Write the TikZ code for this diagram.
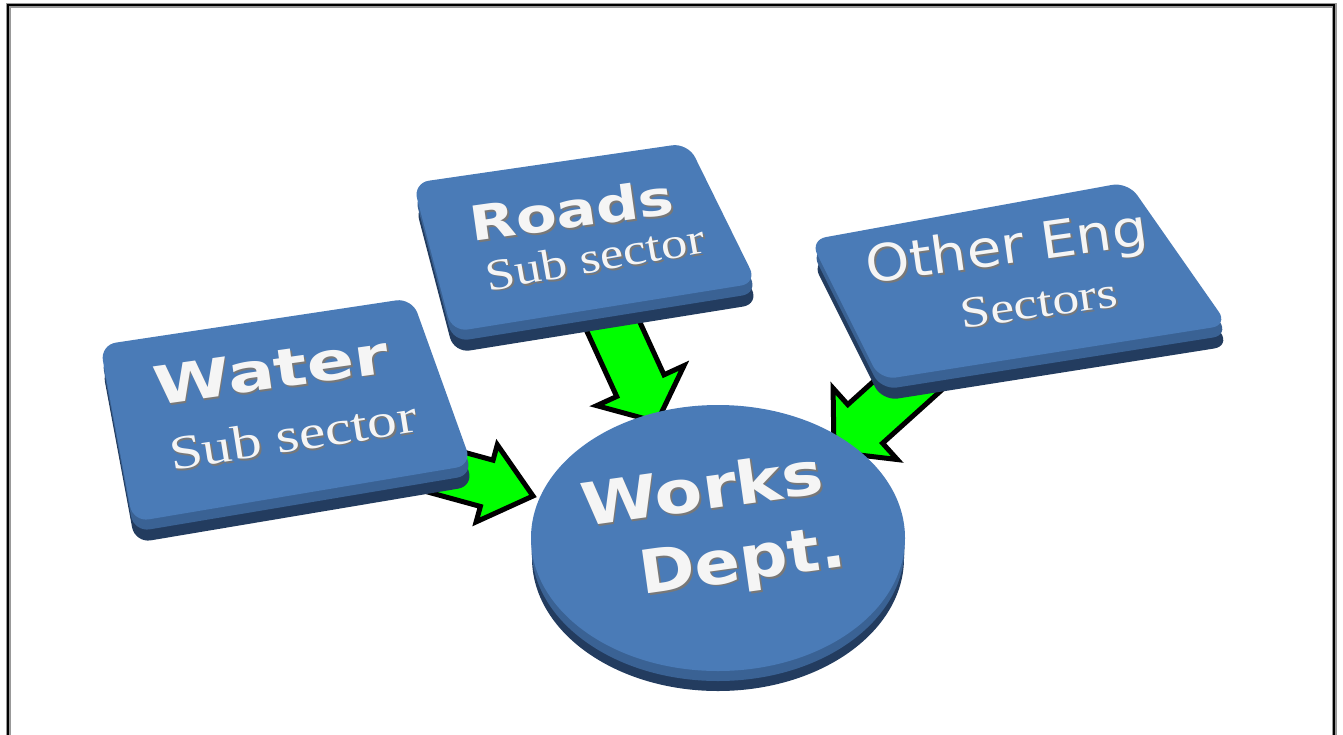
\documentclass[tikz,border=0pt]{standalone}
\usepackage{fontspec}
\usepackage{graphicx}
\usetikzlibrary{calc}
\newfontfamily\vsans{DejaVu Sans}
\newfontfamily\tser{Liberation Serif}
\definecolor{topface}{RGB}{74,123,183}
\definecolor{sidemid}{RGB}{58,98,148}
\definecolor{sidedark}{RGB}{35,60,95}
\definecolor{arrgreen}{RGB}{0,255,0}
\definecolor{shadowgray}{RGB}{120,120,120}
\definecolor{txtwhite}{RGB}{245,245,245}
\newcommand\fsz[1]{\fontsize{#1}{#1}\selectfont}
\tikzset{
  garr/.style={fill=arrgreen, draw=black, line width=5pt, line join=miter},
  txtfg/.style={text=txtwhite, inner sep=0pt},
  slabtop/.style={fill=topface, rounded corners=16pt},
  slabmid/.style={fill=sidemid, rounded corners=16pt},
  slabdark/.style={fill=sidedark, rounded corners=16pt}
}
\newcommand\garrow[5]{%
  \coordinate (#1#2n) at ($(#2)!#3!(#1)$);
  \draw[garr] ($(#1)!#4!90:(#2)$) -- ($(#1#2n)!#4!90:(#2)$) -- ($(#1#2n)!#5!90:(#2)$) -- (#2)
    -- ($(#1#2n)!#5!-90:(#2)$) -- ($(#1#2n)!#4!-90:(#2)$) -- ($(#1)!#4!-90:(#2)$) -- cycle;}
\newcommand\slab[4]{%
  \fill[slabdark, shift={(2,21)}] #1 -- #2 -- #3 -- #4 -- cycle;
  \fill[slabmid, shift={(1,10)}] #1 -- #2 -- #3 -- #4 -- cycle;
  \fill[slabtop] #1 -- #2 -- #3 -- #4 -- cycle;}
\newcommand\shadowed[1]{\makebox[0pt][l]{\kern1.5pt\raisebox{-2pt}{\color{shadowgray}#1}}#1}
\newcommand\etxt[5]{%
  \node[txtfg, rotate=#4] (#1) at (#2,#3) {\shadowed{#5}};}
\begin{document}
\begin{tikzpicture}[x=1pt,y=-1pt]
\useasboundingbox (0,0) rectangle (1343,734);
\fill[white] (0,0) rectangle (1343,734);
% frame
\draw[black!40, line width=5pt] (8,745) -- (8,5) -- (1334,5) -- (1334,745);
\draw[black, line width=2.5pt] (8,745) -- (8,5) -- (1334,5) -- (1334,745);
% arrows
\coordinate (rs) at (608,315); \coordinate (rt) at (657,422);
\coordinate (os) at (925,370); \coordinate (ot) at (834,452);
\coordinate (ws) at (420,465); \coordinate (wt) at (533,496);
\garrow{rs}{rt}{40pt}{26pt}{48pt}
\garrow{os}{ot}{42pt}{26pt}{48pt}
\garrow{ws}{wt}{48pt}{24pt}{40pt}
% boxes
\slab{(413,183)}{(688,143)}{(757,283)}{(452,332)}
\slab{(100,345)}{(412,298)}{(472,465)}{(133,522)}
\slab{(810,240)}{(1128,182)}{(1228,325)}{(880,380)}
% works disc
\fill[sidedark] (718,558) ellipse [x radius=186pt, y radius=133pt];
\fill[sidemid] (718,548) ellipse [x radius=186.5pt, y radius=133pt];
\fill[topface] (718,538) ellipse [x radius=187pt, y radius=133pt];
% texts
\etxt{roads}{572}{211}{8}{\vsans\bfseries\fsz{48}\scalebox{1.24}[1]{Roads}}
\etxt{roadsub}{595}{258}{10}{\tser\fsz{44}\scalebox{1.2}[1]{Sub sector}}
\etxt{water}{271}{371}{8}{\vsans\bfseries\fsz{53}\scalebox{1.32}[1]{Water}}
\etxt{watersub}{293}{436}{9}{\tser\fsz{48}\scalebox{1.24}[1]{Sub sector}}
\etxt{other}{1007}{251}{8}{\vsans\fsz{51}\scalebox{1.1}[1]{Other Eng}}
\etxt{othersub}{1039}{304}{8}{\tser\fsz{44}\scalebox{1.22}[1]{Sectors}}
\etxt{works}{702}{489}{8}{\vsans\bfseries\fsz{59}\scalebox{1.18}[1]{Works}}
\etxt{dept}{743}{566}{8}{\vsans\bfseries\fsz{60}\scalebox{1.12}[1]{Dept.}}
\end{tikzpicture}
\end{document}
